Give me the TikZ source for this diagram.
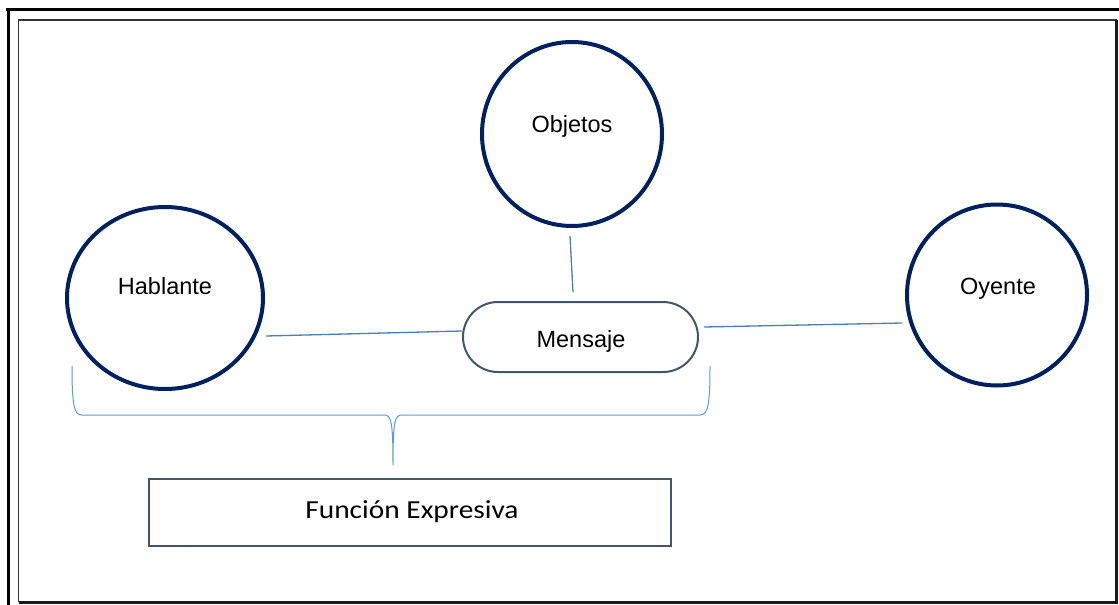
\documentclass[tikz,border=0pt]{standalone}
\usepackage{fontspec}
\setmainfont{Liberation Sans}
\newfontfamily\calib{Carlito}
\usetikzlibrary{shapes.geometric}
\definecolor{navy}{HTML}{002060}
\definecolor{slate}{HTML}{44546A}
\definecolor{linkblue}{HTML}{4A7EBB}
\definecolor{bracecol}{HTML}{5B9BD5}
\tikzset{
  bubble/.style={ellipse, draw=navy, line width=4pt},
  lbl/.style={anchor=base, inner sep=0pt, font=\fontsize{23.5}{27}\selectfont},
  link/.style={draw=linkblue, line width=1.3pt},
  msgbox/.style={draw=slate, line width=2pt, rounded corners=35pt, minimum width=235pt, minimum height=70pt},
  fbox/.style={draw=slate, line width=2pt, minimum width=522pt, minimum height=67pt},
}
\begin{document}
\begin{tikzpicture}[x=1pt,y=-1pt]
\useasboundingbox (0,0) rectangle (1119,605);
% frame
\draw[line width=3pt, black] (6,9.5) -- (1119,9.5);
\draw[line width=3pt, black] (8,8) -- (8,605);
\draw[line width=1.5pt, black!80] (18.5,602) -- (18.5,20) -- (1116.5,20);
\draw[line width=3pt, black!90] (18.5,602) -- (1116.5,602) -- (1116.5,20);
% nodes
\node[bubble, minimum width=196pt, minimum height=182pt] (hab) at (165,298) {};
\node[bubble, minimum width=180pt, minimum height=184pt] (obj) at (572,134) {};
\node[bubble, minimum width=180pt, minimum height=181pt] (oye) at (997,295) {};
\node[msgbox] (men) at (580.5,337) {};
\node[fbox] (fun) at (410,512.5) {};
% labels
\node[lbl] (habt) at (165,294) {Hablante};
\node[lbl] (objt) at (572,132) {Objetos};
\node[lbl] (oyet) at (998,294) {Oyente};
\node[lbl] (ment) at (581,347) {Mensaje};
\node[anchor=base, inner sep=0pt, font=\calib\fontsize{26}{30}\selectfont] (funt) at (412,518) {\scalebox{1.13}[1]{Función Expresiva}};
% connector endpoints
\coordinate (h1) at (266,336);
\coordinate (m1) at (462,331);
\coordinate (m2) at (704,327);
\coordinate (o1) at (902,323);
\coordinate (ob1) at (570,236);
\coordinate (m3) at (573,292);
\draw[link] (h1) -- (m1);
\draw[link] (m2) -- (o1);
\draw[link] (ob1) -- (m3);
% brace
\coordinate (bl) at (72,366);
\coordinate (br) at (710,366);
\coordinate (bt) at (393,465);
\draw[draw=bracecol, line width=1pt]
  (bl) .. controls (72,405) and (74,415) .. (82,415) -- (384,415)
  .. controls (391,415) and (393,420) .. (bt)
  .. controls (393,420) and (395,415) .. (402,415) -- (700,415)
  .. controls (708,415) and (710,405) .. (br);
\end{tikzpicture}
\end{document}
